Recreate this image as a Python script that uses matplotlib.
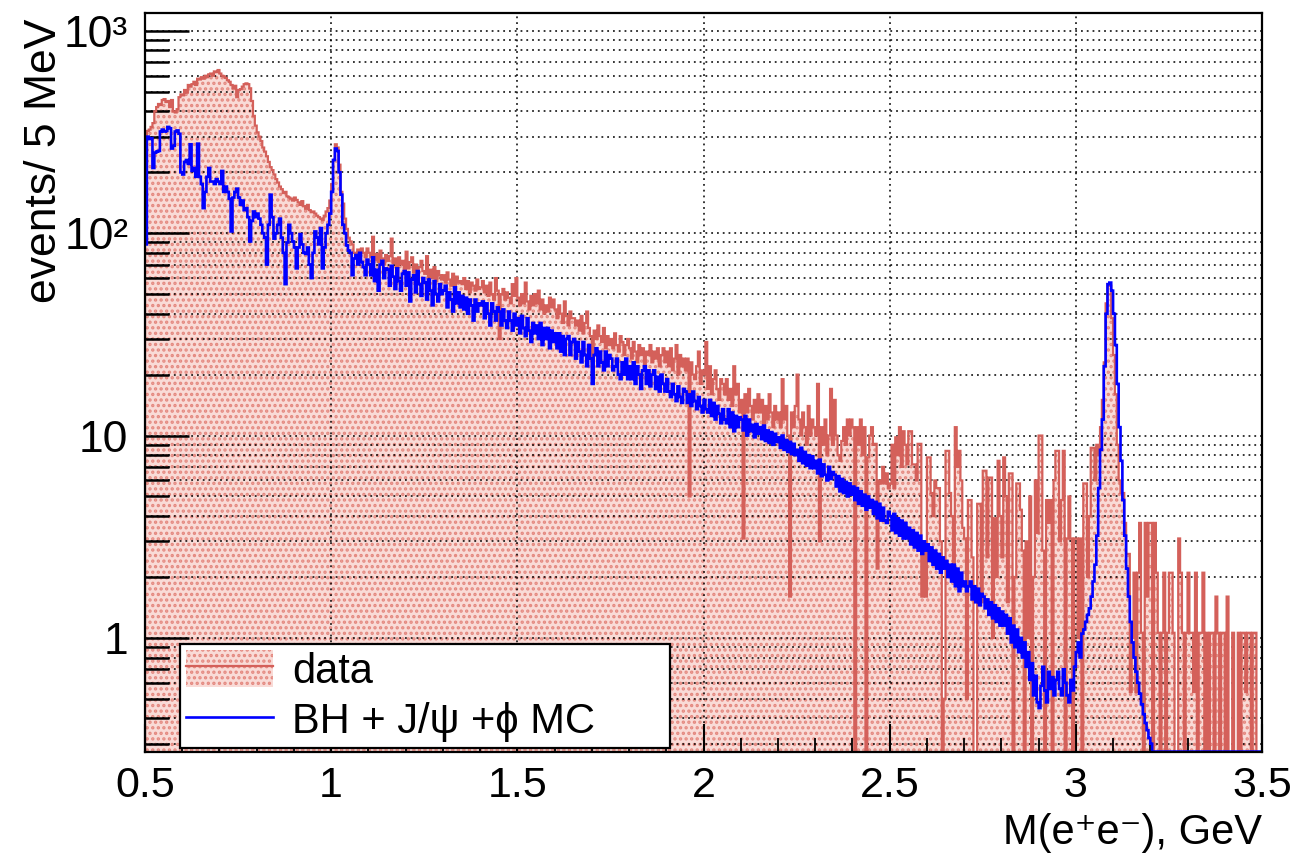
import numpy as np
import matplotlib
matplotlib.use("Agg")
import matplotlib.pyplot as plt
from matplotlib.patches import Patch
from matplotlib.lines import Line2D
from matplotlib.ticker import FixedLocator, MultipleLocator, NullFormatter
from matplotlib.legend_handler import HandlerTuple

plt.rcParams['font.family'] = ['Liberation Sans', 'DejaVu Sans']
plt.rcParams['hatch.linewidth'] = 1.6

# ---------------- data ----------------
bin_lo = 0.5
bin_width = 0.005   # 5 MeV bins, 0.5 - 3.5 GeV

data_counts = [
    300, 320, 325, 335, 350, 400, 420, 435, 430, 455,
    460, 445, 450, 420, 455, 400, 395, 410, 470, 485,
    480, 510, 495, 540, 530, 545, 560, 540, 580, 575,
    590, 580, 600, 590, 610, 615, 600, 630, 625, 640,
    615, 600, 595, 585, 570, 560, 540, 520, 535, 470,
    510, 515, 530, 545, 550, 545, 520, 450, 380, 340,
    315, 300, 285, 265, 253, 240, 225, 212, 205, 195,
    185, 178, 170, 165, 158, 160, 152, 150, 148, 145,
    150, 146, 142, 138, 144, 136, 132, 138, 130, 127,
    128, 125, 122, 120, 118, 116, 122, 128, 133, 145,
    175, 230, 275, 265, 218, 160, 140, 118, 105, 95,
    91, 88, 80, 79, 83, 77, 84, 80, 76, 84,
    80, 76, 96, 74, 79, 72, 82, 75, 70, 78,
    73, 77, 94, 71, 75, 68, 76, 70, 73, 66,
    81, 67, 72, 76, 64, 70, 62, 68, 73, 65,
    63, 77, 61, 66, 60, 68, 58, 65, 62, 59,
    62, 57, 64, 59, 55, 63, 54, 61, 57, 58,
    56, 60, 53, 58, 51, 57, 55, 52, 59, 53,
    54, 58, 51, 55, 49, 57, 50, 47, 60, 52,
    30, 50, 53, 47, 51, 48, 45, 56, 49, 60,
    48, 44, 50, 45, 57, 46, 42, 49, 44, 50,
    45, 52, 42, 47, 40, 44, 41, 48, 43, 47,
    42, 38, 44, 40, 36, 46, 39, 35, 41, 38,
    38, 35, 37, 33, 39, 32, 36, 41, 34, 31,
    22, 33, 30, 35, 31, 29, 34, 27, 31, 28,
    30, 27, 32, 28, 26, 31, 29, 25, 28, 30,
    27, 24, 29, 26, 23, 28, 25, 27, 22, 26,
    25, 28, 23, 26, 24, 27, 22, 25, 27, 23,
    26, 22, 27, 21, 24, 28, 20, 25, 22, 24,
    21, 24, 5, 23, 20, 19, 22, 26, 18, 21,
    20, 29, 17, 22, 16, 19, 21, 17, 15, 19,
    18, 16, 19, 15, 17, 14, 22, 16, 18, 13,
    15, 3.1, 16, 13, 17, 14, 12, 15, 13, 16,
    13, 15, 11, 14, 12, 16, 13, 11, 14, 12,
    13, 11, 19, 12, 14, 10, 1.6, 13, 11, 14,
    20, 12, 10, 13, 11, 9, 14, 10, 12, 11,
    10, 18, 3, 11, 9, 12, 8, 10, 17, 9,
    15, 10, 8, 7.5, 9.4, 11, 9, 12, 10, 12,
    11, 0, 11, 9, 12, 8, 11, 0, 7.8, 10,
    11, 9, 9.1, 2.2, 6, 5.8, 7, 5.8, 6.5, 5.5,
    5.8, 9, 5.5, 9.8, 8, 11, 7, 10.5, 9, 7.2,
    10.5, 10.5, 7.2, 7.2, 6, 9.1, 9.1, 1.6, 3, 1.6,
    7.8, 7.8, 5.2, 4, 6, 5.5, 5.5, 3, 0, 0.5,
    8.4, 8.4, 5.2, 4, 2, 11, 7, 8.4, 6, 3.5,
    3.1, 0.5, 4.8, 4.8, 2.5, 0, 0, 4.6, 4.6, 1.5,
    6.7, 6.7, 2.5, 6.2, 6.2, 1, 3.9, 2, 7.5, 4,
    2.5, 7.8, 5, 1.5, 6.5, 6.5, 0, 2, 5.8, 5.8,
    4.3, 2.7, 0, 3, 1, 5, 0, 2, 6, 3.3,
    10, 10, 2.7, 0, 4.8, 3.7, 4.8, 0, 6, 8.4,
    8.4, 3, 4.8, 8.4, 0, 3.1, 5, 3.1, 0, 3.1,
    3.1, 1, 3.1, 0, 5.8, 5.8, 2, 4, 8.7, 8.7,
    6, 9, 8, 11, 15, 23, 45, 56, 55, 38,
    25, 16, 9, 6, 5.2, 5.2, 3.7, 2.6, 2.6, 0.54,
    1, 2.1, 0.54, 2.1, 3.7, 1.06, 0, 3.7, 1.6, 3.7,
    3.7, 0, 3.7, 2.1, 1.06, 0, 1.06, 2.1, 0, 1.06,
    2.1, 2.1, 1.06, 0, 0, 3.1, 2.1, 1.06, 0, 1.06,
    2.1, 1.06, 1.06, 0.54, 2.1, 0, 1.06, 1.06, 2.1, 0,
    1.06, 0, 1.06, 1.06, 0, 1.6, 1.06, 0, 1.06, 1.06,
    0, 1.6, 0, 0, 1.06, 0, 0, 1.06, 0, 1.06,
    1.06, 0.54, 1.06, 1.06, 0, 1.06, 1.06, 0, 0, 0,
]

mc_counts = [
    88, 300, 292, 295, 210, 250, 253, 255, 318, 325,
    318, 320, 335, 330, 262, 270, 318, 322, 310, 200,
    195, 225, 230, 220, 275, 203, 210, 190, 277, 190,
    175, 133, 160, 190, 210, 180, 180, 175, 185, 180,
    175, 203, 160, 170, 160, 148, 102, 150, 160, 166,
    150, 138, 145, 130, 133, 120, 91, 115, 128, 120,
    125, 118, 110, 100, 95, 70, 110, 155, 120, 94,
    100, 110, 118, 95, 80, 56, 90, 110, 100, 91,
    85, 67, 85, 99, 88, 80, 79, 85, 70, 60,
    80, 102, 95, 88, 106, 67, 85, 100, 110, 125,
    160, 230, 262, 255, 200, 155, 110, 100, 87, 82,
    80, 62, 75, 78, 70, 80, 72, 68, 62, 74,
    70, 62, 76, 58, 66, 52, 70, 73, 60, 67,
    66, 55, 69, 61, 53, 67, 58, 52, 63, 65,
    55, 64, 46, 59, 62, 51, 65, 56, 49, 60,
    57, 47, 59, 52, 44, 58, 50, 46, 56, 50,
    52, 55, 43, 51, 47, 41, 54, 45, 51, 43,
    49, 42, 48, 40, 47, 44, 37, 47, 41, 45,
    44, 46, 38, 45, 40, 35, 45, 41, 37, 43,
    41, 35, 42, 37, 34, 41, 37, 33, 40, 35,
    38, 32, 39, 34, 31, 38, 33, 29, 36, 32,
    35, 30, 36, 28, 34, 30, 34, 27, 33, 29,
    32, 27, 32, 26, 31, 25, 30, 31, 25, 29,
    30, 24, 29, 26, 23, 29, 25, 22, 28, 24,
    18, 25, 27, 22, 26, 23, 21, 26, 22, 25,
    24, 21, 22, 24, 20, 19, 23, 20, 24, 19,
    22, 19, 23, 18, 22, 20, 17, 21, 22, 18,
    21, 17.5, 20, 21, 17, 19.5, 16.5, 20, 18, 16.5,
    19, 16.5, 15.5, 18, 16, 14.8, 17.5, 15.5, 14.5, 17,
    16.5, 14.5, 16, 14, 16.5, 14.8, 13.5, 15.5, 14, 13,
    15, 13.5, 13, 15, 12.5, 14.5, 12, 14, 12.8, 11.5,
    13.5, 12, 11.5, 13.5, 11, 13, 10.5, 12.5, 11, 12.3,
    12, 10.6, 12.5, 10, 12, 10.5, 11.3, 9.8, 11.4, 10.2,
    11, 9.6, 11.2, 9.4, 10.6, 9.2, 10.4, 9.0, 10.2, 9.3,
    9.8, 8.7, 10, 8.5, 9.5, 8.3, 9.3, 8.1, 9.1, 8.0,
    8.5, 7.5, 8.7, 7.3, 8.3, 7.1, 8.0, 6.9, 7.9, 6.9,
    7.5, 6.5, 7.6, 6.3, 7.2, 6.4, 6.0, 7.0, 6.1, 6.6,
    6.4, 5.6, 6.3, 5.3, 6.1, 5.2, 5.9, 5.0, 5.8, 5.1,
    5.6, 4.8, 5.5, 4.6, 5.3, 4.5, 5.1, 4.3, 5.0, 4.4,
    4.8, 4.1, 4.7, 3.9, 4.6, 3.8, 4.4, 3.8, 3.7, 4.2,
    4.0, 3.4, 4.1, 3.3, 3.9, 3.2, 3.8, 3.1, 3.7, 3.1,
    3.5, 2.9, 3.4, 2.8, 3.3, 2.7, 3.2, 2.6, 3.0, 2.7,
    2.9, 2.4, 2.8, 2.3, 2.7, 2.2, 2.6, 2.1, 2.5, 2.2,
    2.4, 2.0, 2.3, 1.9, 2.3, 1.8, 2.2, 1.7, 2.1, 1.8,
    1.9, 1.7, 1.8, 1.9, 1.55, 1.8, 1.5, 1.75, 1.45, 1.65,
    1.6, 1.4, 1.55, 1.3, 1.5, 1.25, 1.45, 1.2, 1.4, 1.15,
    1.35, 1.15, 1.3, 1.05, 1.25, 0.95, 1.15, 0.9, 1.1, 0.85,
    1.0, 0.8, 0.95, 0.72, 0.85, 0.62, 0.75, 0.52, 0.65, 0.48,
    0.45, 0.58, 0.72, 0.55, 0.48, 0.68, 0.56, 0.64, 0.52, 0.62,
    0.68, 0.56, 0.52, 0.7, 0.6, 0.52, 0.48, 0.62, 0.55, 0.72,
    0.85, 0.95, 0.8, 1.05, 1.1, 1.2, 1.3, 1.4, 1.6, 1.9,
    2.3, 3.2, 5.5, 8.5, 12, 22, 40, 56, 57, 52,
    40, 28, 18, 11, 7.5, 4.8, 3.2, 2.2, 1.6, 1.2,
    0.95, 0.8, 0.68, 0.6, 0.53, 0.47, 0.42, 0.38, 0.35, 0.32,
    0.3, 0, 0, 0, 0, 0, 0, 0, 0, 0,
    0, 0, 0, 0, 0, 0, 0, 0, 0, 0,
    0, 0, 0, 0, 0, 0, 0, 0, 0, 0,
    0, 0, 0, 0, 0, 0, 0, 0, 0, 0,
    0, 0, 0, 0, 0, 0, 0, 0, 0, 0,
    0, 0, 0, 0, 0, 0, 0, 0, 0, 0,
]

x_ticks = [0.5, 1, 1.5, 2, 2.5, 3, 3.5]
x_tick_labels = ["0.5", "1", "1.5", "2", "2.5", "3", "3.5"]
y_ticks = [1, 10, 100, 1000]
y_tick_labels = ["1", "10", "10\u00b2", "10\u00b3"]

legend_labels = ["data", "BH + J/\u03c8 +\u03d5 MC"]

# ---------------- drawing ----------------
YMIN, YMAX = 0.273, 1225
data_arr = np.asarray(data_counts, dtype=float)
mc_arr = np.asarray(mc_counts, dtype=float)
edges = bin_lo + bin_width * np.arange(len(data_arr) + 1)

data_plot = np.where(data_arr > 0, data_arr, 1e-3)
mc_plot = np.maximum(mc_arr, YMIN * 1.005)

RED = '#d4605a'
FILL = '#f9dbd7'
HATCH = '#e4887f'
fig = plt.figure(figsize=(12.99, 8.61), dpi=100)
ax = fig.add_axes([145 / 1299, 1 - 752 / 861, 1117 / 1299, 739 / 861])
ax.set_yscale('log')

ax.stairs(data_plot, edges, baseline=1e-3, fill=True, facecolor=FILL,
          edgecolor=HATCH, hatch='...', linewidth=0, zorder=1)
ax.stairs(data_plot, edges, baseline=1e-3, color=RED, linewidth=1.6, zorder=3)
ax.stairs(mc_plot, edges, baseline=None, color='#0000ff', linewidth=1.9, zorder=4)

ax.set_xlim(0.5, 3.5)
ax.set_ylim(YMIN, YMAX)

ax.xaxis.set_major_locator(FixedLocator(x_ticks))
ax.set_xticklabels(x_tick_labels)
ax.xaxis.set_minor_locator(MultipleLocator(0.1))
ax.yaxis.set_major_locator(FixedLocator(y_ticks))
ax.set_yticklabels(y_tick_labels)
ax.yaxis.set_minor_locator(matplotlib.ticker.LogLocator(base=10, subs=np.arange(2, 10)))
ax.yaxis.set_minor_formatter(NullFormatter())

ax.tick_params(axis='x', which='major', direction='in', length=20, width=1.5,
               labelsize=31, pad=10, top=False)
ax.tick_params(axis='x', which='minor', direction='in', length=10, width=1.3, top=False)
ax.tick_params(axis='y', which='major', direction='in', length=32, width=1.8,
               labelsize=32, pad=12, right=False)
ax.tick_params(axis='y', which='minor', direction='in', length=17, width=1.8, right=False)

ax.set_axisbelow(False)
grid_kw = dict(color='black', linestyle=(0, (1, 2.2)), linewidth=1.3, alpha=0.85)
ax.grid(True, which='major', axis='both', **grid_kw)
ax.grid(True, which='minor', axis='y', **grid_kw)

for s in ax.spines.values():
    s.set_linewidth(1.6)
    s.set_zorder(5)

ax.set_ylabel('events/ 5 MeV', fontsize=32, loc='top')
ax.yaxis.set_label_coords(-0.072, 0.993)
ax.set_xlabel('M(e\u207ae\u207b), GeV', fontsize=30, loc='right')
ax.xaxis.set_label_coords(1.0, -0.083)

patch = Patch(facecolor=FILL, edgecolor=HATCH, hatch='...', linewidth=0)
line_red = Line2D([], [], color=RED, linewidth=1.6)
line_blue = Line2D([], [], color='#0000ff', linewidth=1.9)
leg = ax.legend([(patch, line_red), line_blue], legend_labels,
                handler_map={tuple: HandlerTuple(ndivide=1)},
                loc='lower left', bbox_to_anchor=(0.031, 0.005, 0.439, 0.14),
                mode='expand', borderaxespad=0, fontsize=30, frameon=True,
                fancybox=False, framealpha=1, edgecolor='black',
                handlelength=2.1, handleheight=1.0, handletextpad=0.45,
                labelspacing=0.2, borderpad=0.15)
leg.get_frame().set_linewidth(1.6)
leg.set_zorder(10)

fig.savefig('out.png', dpi=100)
